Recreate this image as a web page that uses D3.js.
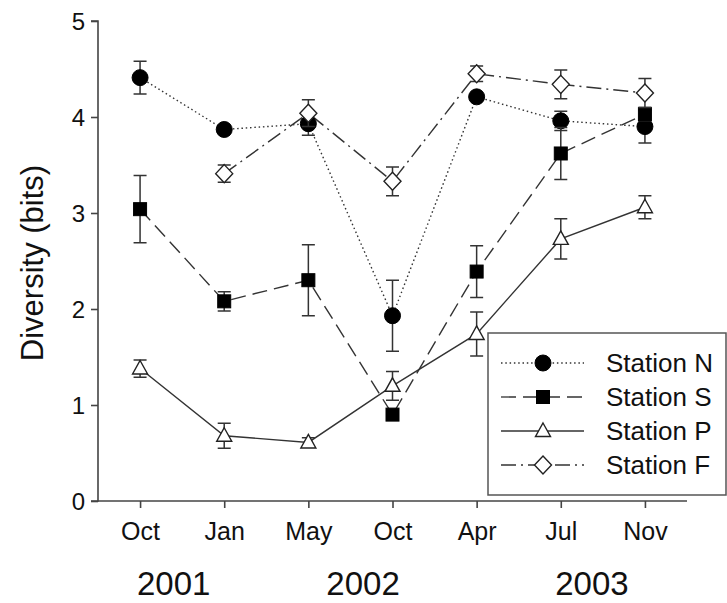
<!DOCTYPE html>
<html>
<head>
<meta charset="utf-8">
<script src="https://cdn.jsdelivr.net/npm/d3@7"></script>
<style>
  body { margin: 0; background: #fff; }
  text { font-family: "Liberation Sans", Arial, sans-serif; fill: #111; }
</style>
</head>
<body>
<div class="chart"></div>
<script>
var svgWidth = 727;
var svgHeight = 603;

// data
var months = ["Oct", "Jan", "May", "Oct", "Apr", "Jul", "Nov"];
var years = ["2001", "2002", "2003"];
var yearPos = [0.4, 2.65, 5.37];   // position along the month index
var stations = ["Station N", "Station S", "Station P", "Station F"];
var yTicks = [0, 1, 2, 3, 4, 5];

var stationN = [4.41, 3.87, 3.93, 1.93, 4.21, 3.96, 3.90];
var stationNErr = [0.17, 0.04, 0.12, 0.37, 0.04, 0.10, 0.17];
var stationS = [3.04, 2.08, 2.30, 0.90, 2.39, 3.62, 4.03];
var stationSErr = [0.35, 0.10, 0.37, 0.05, 0.27, 0.27, 0.07];
var stationP = [1.38, 0.68, 0.61, 1.20, 1.74, 2.73, 3.06];
var stationPErr = [0.09, 0.13, 0.05, 0.15, 0.23, 0.21, 0.12];
var stationF = [null, 3.41, 4.04, 3.33, 4.45, 4.34, 4.25];
var stationFErr = [null, 0.09, 0.14, 0.15, 0.08, 0.15, 0.15];

var series = [
  { name: stations[0], values: stationN, errs: stationNErr, symbol: "circle", fill: "#000", dash: "1.5,2.8" },
  { name: stations[1], values: stationS, errs: stationSErr, symbol: "square", fill: "#000", dash: "15,7" },
  { name: stations[2], values: stationP, errs: stationPErr, symbol: "triangle", fill: "#fff", dash: null },
  { name: stations[3], values: stationF, errs: stationFErr, symbol: "diamond", fill: "#fff", dash: "15,5,2,5" }
];

var svg = d3.select(".chart").append("svg")
  .attr("width", svgWidth)
  .attr("height", svgHeight);

var x0 = 98, x1 = 687, yTop = 21, yBot = 501;
var lineColor = "#333";
var axisColor = "#444";

var xScale = d3.scalePoint()
  .domain(d3.range(months.length))
  .range([x0, x1])
  .padding(0.5);

var xIdx = d3.scaleLinear()
  .domain([0, months.length - 1])
  .range([xScale(0), xScale(months.length - 1)]);

var yScale = d3.scaleLinear()
  .domain([0, 5])
  .range([yBot, yTop]);

// ---- axes ----
var leftAxis = d3.axisLeft(yScale).tickValues(yTicks).tickSize(7).tickPadding(6).tickFormat(d3.format("d"));
var yAxis = svg.append("g")
  .attr("transform", `translate(${x0},0)`)
  .call(leftAxis);
yAxis.select(".domain").attr("d", `M-7,${yTop}H0V${yBot}H-7`);

var bottomAxis = d3.axisBottom(xScale).tickSize(7).tickPadding(14).tickFormat(i => months[i]);
var xAxis = svg.append("g")
  .attr("transform", `translate(0,${yBot})`)
  .call(bottomAxis);
xAxis.select(".domain").attr("d", `M${x0},0H${x1}`);

[yAxis, xAxis].forEach(function(ax) {
  ax.select(".domain").attr("stroke", axisColor).attr("stroke-width", 1.6);
  ax.selectAll(".tick line").attr("stroke", axisColor).attr("stroke-width", 1.6);
  ax.selectAll(".tick text").attr("fill", "#111").style("font-family", "Liberation Sans, Arial, sans-serif");
});
yAxis.selectAll(".tick text").style("font-size", "24px").attr("dy", "0.36em");
xAxis.selectAll(".tick text").style("font-size", "25px");

svg.append("g").selectAll("text")
  .data(years)
  .enter()
  .append("text")
  .attr("x", (d, i) => xIdx(yearPos[i]))
  .attr("y", 595)
  .attr("text-anchor", "middle")
  .style("font-size", "33px")
  .text(d => d);

svg.append("text")
  .attr("transform", `translate(43,${(yTop + yBot) / 2 + 2}) rotate(-90)`)
  .attr("text-anchor", "middle")
  .style("font-size", "31px")
  .text("Diversity (bits)");

// ---- markers ----
function drawMarker(g, symbol, fill) {
  if (symbol === "circle") {
    g.append("circle").attr("r", 8).attr("fill", fill).attr("stroke", "#000").attr("stroke-width", 1);
  } else if (symbol === "square") {
    g.append("rect").attr("x", -6.5).attr("y", -6.5).attr("width", 13).attr("height", 13)
      .attr("fill", fill).attr("stroke", "#000").attr("stroke-width", 1);
  } else if (symbol === "triangle") {
    g.append("path").attr("d", "M0,-8L7.5,5.5L-7.5,5.5Z")
      .attr("fill", fill).attr("stroke", "#222").attr("stroke-width", 1.4);
  } else {
    g.append("path").attr("d", "M0,-9L8.5,0L0,9L-8.5,0Z")
      .attr("fill", fill).attr("stroke", "#222").attr("stroke-width", 1.4);
  }
}

var line = d3.line()
  .defined(d => d != null)
  .x((d, i) => xScale(i))
  .y(d => yScale(d));

var plot = svg.append("g");

series.forEach(function(s) {
  plot.append("path")
    .attr("d", line(s.values))
    .attr("fill", "none")
    .attr("stroke", lineColor)
    .attr("stroke-width", 1.4)
    .attr("stroke-dasharray", s.dash);
});

series.forEach(function(s) {
  var pts = s.values.map((v, i) => ({ i: i, v: v, e: s.errs[i] })).filter(d => d.v != null);
  var eb = plot.append("g").selectAll("path")
    .data(pts)
    .enter()
    .append("path")
    .attr("d", function(d) {
      var cx = xScale(d.i), t = yScale(d.v + d.e), b = yScale(d.v - d.e);
      return `M${cx - 6.5},${t}H${cx + 6.5}M${cx},${t}V${b}M${cx - 6.5},${b}H${cx + 6.5}`;
    })
    .attr("fill", "none")
    .attr("stroke", lineColor)
    .attr("stroke-width", 1.5);

  plot.append("g").selectAll("g")
    .data(pts)
    .enter()
    .append("g")
    .attr("transform", d => `translate(${xScale(d.i)},${yScale(d.v)})`)
    .each(function() { drawMarker(d3.select(this), s.symbol, s.fill); });
});

// ---- legend ----
var legend = svg.append("g");
legend.append("rect")
  .attr("x", 488).attr("y", 333)
  .attr("width", 238).attr("height", 162)
  .attr("fill", "#fff")
  .attr("stroke", "#555")
  .attr("stroke-width", 1.5);

var rowY = d3.scalePoint().domain(stations).range([363, 465]);

series.forEach(function(s) {
  var ry = rowY(s.name);
  legend.append("line")
    .attr("x1", 501).attr("x2", 584)
    .attr("y1", ry).attr("y2", ry)
    .attr("stroke", lineColor)
    .attr("stroke-width", 1.3)
    .attr("stroke-dasharray", s.dash);
  var m = legend.append("g").attr("transform", `translate(543,${ry})`);
  drawMarker(m, s.symbol, s.fill);
  legend.append("text")
    .attr("x", 606)
    .attr("y", ry + 9)
    .style("font-size", "26px")
    .text(s.name);
});
</script>
</body>
</html>
